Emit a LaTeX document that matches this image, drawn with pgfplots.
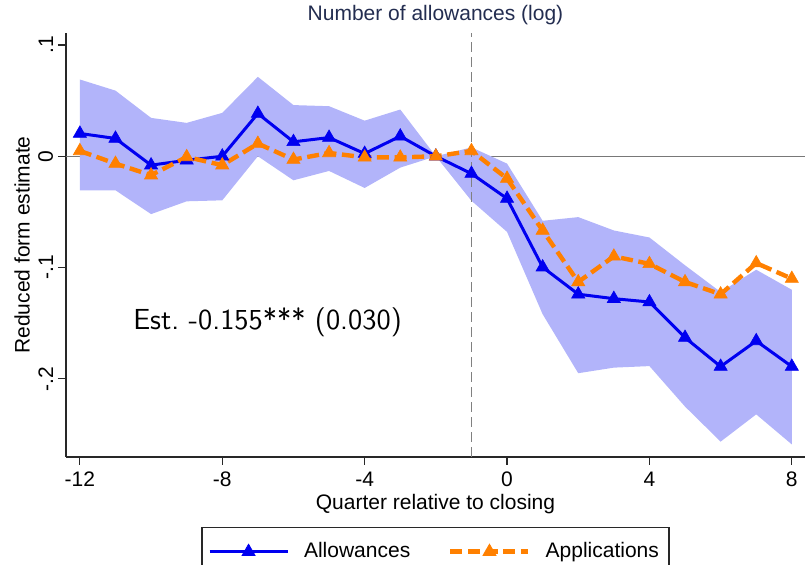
\documentclass[border=0pt]{standalone}
\usepackage{fontspec}
\setmainfont{Liberation Sans}
\usepackage{pgfplots}
\pgfplotsset{compat=1.18}
\definecolor{bandcol}{RGB}{178,180,250}
\definecolor{blueline}{RGB}{0,0,240}
\definecolor{orangeline}{RGB}{255,128,0}
\definecolor{titlecol}{RGB}{35,45,80}
\definecolor{axcol}{RGB}{40,40,40}
\begin{document}
\begin{tikzpicture}
\useasboundingbox (-33pt,-54pt) rectangle (369.5pt,228.5pt);
\begin{axis}[
  scale only axis, width=369.5pt, height=212pt,
  xmin=-12.39, xmax=8.37, ymin=-0.2703, ymax=0.1108,
  axis x line*=bottom, axis y line*=left,
  axis line style={-, axcol, line width=0.6pt},
  xtick={-12,-8,-4,0,4,8}, xticklabels={-12,-8,-4,0,4,8},
  ytick={-0.2,-0.1,0,0.1}, yticklabels={-.2,-.1,0,.1},
  tick align=outside, major tick length=4pt,
  tick style={axcol, line width=0.6pt},
  ticklabel style={font=\fontsize{10.5}{12.6}\selectfont},
  yticklabel style={rotate=90, anchor=south, inner sep=2.2pt},
  label style={font=\fontsize{10.5}{12.6}\selectfont},
  xlabel={Quarter relative to closing},
  xlabel style={at={(axis description cs:0.5,-0.1108)}, anchor=center},
  ylabel={Reduced form estimate},
  ylabel style={at={(axis description cs:-0.0595,0.5)}, anchor=center},
  title={Number of allowances (log)},
  every axis title/.style={at={(axis description cs:0.5,1)}, anchor=center, yshift=9pt,
    text=titlecol, font=\fontsize{10.5}{12.6}\selectfont},
  legend columns=2,
  legend style={at={(axis description cs:0.5,-0.165)}, anchor=north,
    draw=axcol, line width=0.6pt, font=\fontsize{10.5}{12.6}\selectfont, inner ysep=5.5pt,
    /tikz/every odd column/.append style={column sep=5.5pt},
    /tikz/every even column/.append style={column sep=17pt}},
  legend image code/.code={\draw[mark repeat=2,mark phase=2,#1] plot coordinates {(0pt,0pt) (19.5pt,0pt) (39pt,0pt)};},
  clip=false,
]
% zero line
\addplot[forget plot, draw={rgb,255:red,120;green,120;blue,120}, line width=0.65pt] coordinates {(-12.39,0) (8.37,0)};
% confidence band
\addplot[forget plot, fill=bandcol, draw=none] coordinates {
(-12,0.069) (-11,0.059) (-10,0.0345) (-9,0.030) (-8,0.039) (-7,0.0714) (-6,0.046) (-5,0.045) (-4,0.032) (-3,0.042) (-2,0) (-1,0.008) (0,-0.0066) (1,-0.058) (2,-0.0547) (3,-0.0667) (4,-0.073) (5,-0.098) (6,-0.122) (7,-0.102) (8,-0.120)
(8,-0.259) (7,-0.232) (6,-0.2565) (5,-0.225) (4,-0.1886) (3,-0.190) (2,-0.195) (1,-0.142) (0,-0.068) (-1,-0.040) (-2,0) (-3,-0.0102) (-4,-0.0285) (-5,-0.0132) (-6,-0.0216) (-7,0.0) (-8,-0.0396) (-9,-0.0405) (-10,-0.052) (-11,-0.0306) (-12,-0.0306)
} -- cycle;
% vertical dashed line
\addplot[forget plot, draw={rgb,255:red,128;green,128;blue,128}, line width=0.9pt, dash pattern=on 5pt off 2.5pt] coordinates {(-1,-0.2703) (-1,0.1108)};
% Allowances
\addplot[blueline, line width=1.5pt, mark=triangle*, mark size=3.8pt, mark options={solid, fill=blueline, draw=blueline, line width=0.3pt}] coordinates {
(-12,0.0205) (-11,0.016) (-10,-0.008) (-9,-0.0036) (-8,0.0) (-7,0.0384) (-6,0.013) (-5,0.0168) (-4,0.0024) (-3,0.018) (-2,0) (-1,-0.0156) (0,-0.038) (1,-0.0997) (2,-0.124) (3,-0.128) (4,-0.131) (5,-0.163) (6,-0.189) (7,-0.166) (8,-0.189)
};
\addlegendentry{Allowances}
% Applications
\addplot[orangeline, line width=2.2pt, dash pattern=on 6pt off 2.8pt, mark=triangle*, mark size=3.8pt, mark options={solid, fill=orangeline, draw=orangeline, line width=0.3pt}] coordinates {
(-12,0.0048) (-11,-0.0066) (-10,-0.017) (-9,-0.0006) (-8,-0.008) (-7,0.0114) (-6,-0.003) (-5,0.003) (-4,-0.001) (-3,-0.001) (-2,0) (-1,0.0048) (0,-0.020) (1,-0.0667) (2,-0.113) (3,-0.090) (4,-0.0967) (5,-0.113) (6,-0.124) (7,-0.096) (8,-0.110)
};
\addlegendentry{Applications}
\node[anchor=west, inner sep=0pt, font=\sffamily\fontsize{14.5}{17}\selectfont] at (axis cs:-10.51,-0.1495) {Est.\ -0.155*** (0.030)};
\end{axis}
\end{tikzpicture}
\end{document}
